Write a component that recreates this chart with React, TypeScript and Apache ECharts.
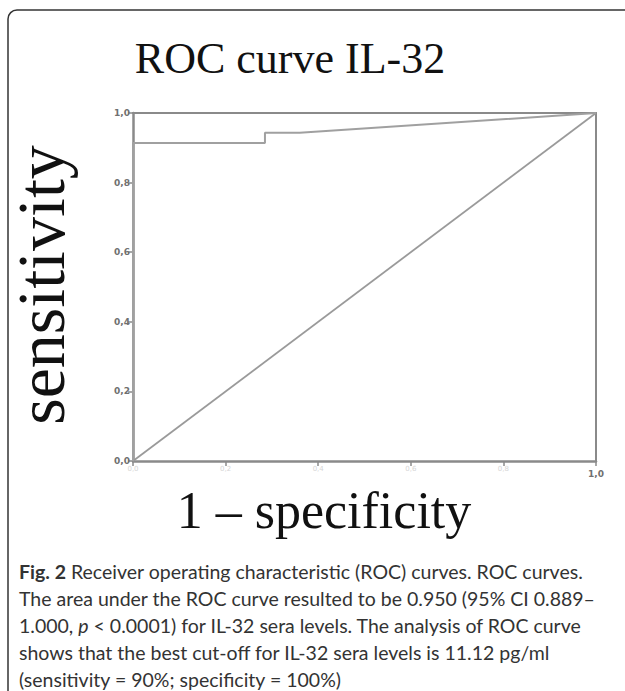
import React, { useEffect, useRef } from "react";
import * as echarts from "echarts";

const titleText = "ROC curve IL-32";
const xAxisName = "1 – specificity";
const yAxisName = "sensitivity";
const rocPoints: [number, number][] = [
  [0, 0],
  [0, 0.914],
  [0.285, 0.914],
  [0.285, 0.943],
  [0.36, 0.943],
  [1, 1],
];
const diagonalPoints: [number, number][] = [
  [0, 0],
  [1, 1],
];
const captionLines = [
  "{b|Fig. 2} Receiver operating characteristic (ROC) curves. ROC curves.",
  "The area under the ROC curve resulted to be 0.950 (95% CI 0.889–",
  "1.000, {i|p} < 0.0001) for IL-32 sera levels. The analysis of ROC curve",
  "shows that the best cut-off for IL-32 sera levels is 11.12 pg/ml",
  "(sensitivity = 90%; specificity = 100%)",
];

const fmt = (v: number) => v.toFixed(1).replace(".", ",");

export default function App() {
  const ref = useRef<HTMLDivElement>(null);
  useEffect(() => {
    if (!ref.current) return;
    const chart = echarts.init(ref.current, null, { renderer: "svg" });
    const axisColor = "#8a8a8a";
    const captionFont = "Lato, 'Noto Sans', sans-serif";
    const capSize = 19.5;
    const borderStyle = { stroke: "#333", lineWidth: 1.5, fill: "none" };
    chart.setOption({
      animation: false,
      backgroundColor: "#fff",
      grid: { left: 133, right: 29, top: 113, bottom: 230 },
      xAxis: [
        {
          type: "value",
          min: 0,
          max: 1,
          interval: 0.2,
          axisLine: { show: true, onZero: false, lineStyle: { color: axisColor, width: 2.5 } },
          axisTick: { show: true, length: 5, lineStyle: { color: axisColor, width: 1.5 } },
          splitLine: { show: false },
          axisLabel: {
            margin: 4,
            formatter: (v: number) => (Math.abs(v - 1) < 1e-6 ? "{d|" + fmt(v) + "}" : "{f|" + fmt(v) + "}"),
            rich: {
              d: { color: "#707070", fontSize: 9, fontWeight: "bold", fontFamily: "DejaVu Sans", padding: [4, 0, 0, 0] },
              f: { color: "#d6d6d6", fontSize: 7, fontFamily: "DejaVu Sans" },
            },
          },
        },
        {
          type: "value",
          position: "top",
          min: 0,
          max: 1,
          axisLine: { show: true, onZero: false, lineStyle: { color: axisColor, width: 2 } },
          axisTick: { show: false },
          axisLabel: { show: false },
          splitLine: { show: false },
        },
      ],
      yAxis: [
        {
          type: "value",
          min: 0,
          max: 1,
          interval: 0.2,
          axisLine: { show: true, onZero: false, lineStyle: { color: axisColor, width: 2.5 } },
          axisTick: { show: true, length: 5, lineStyle: { color: axisColor, width: 1.5 } },
          splitLine: { show: false },
          axisLabel: {
            margin: 3,
            formatter: (v: number) => fmt(v),
            color: "#707070",
            fontSize: 9,
            fontWeight: "bold",
            fontFamily: "DejaVu Sans",
          },
        },
        {
          type: "value",
          position: "right",
          min: 0,
          max: 1,
          axisLine: { show: true, onZero: false, lineStyle: { color: axisColor, width: 2 } },
          axisTick: { show: false },
          axisLabel: { show: false },
          splitLine: { show: false },
        },
      ],
      series: [
        {
          type: "line",
          data: diagonalPoints,
          symbol: "none",
          lineStyle: { color: "#9a9a9a", width: 1.8 },
          z: 3,
        },
        {
          type: "line",
          data: rocPoints,
          symbol: "none",
          lineStyle: { color: "#a0a0a0", width: 2 },
          z: 4,
        },
      ],
      graphic: [
        {
          type: "line",
          shape: { x1: 8, y1: 19, x2: 8, y2: 700 },
          style: borderStyle,
          silent: true,
        },
        {
          type: "line",
          shape: { x1: 17, y1: 10, x2: 640, y2: 10 },
          style: borderStyle,
          silent: true,
        },
        {
          type: "arc",
          shape: { cx: 17, cy: 19, r: 9, startAngle: Math.PI, endAngle: Math.PI * 1.5 },
          style: borderStyle,
          silent: true,
        },
        {
          type: "text",
          x: 290,
          y: 58,
          style: {
            text: titleText,
            font: "44px 'Liberation Serif', 'DejaVu Serif', serif",
            fill: "#111",
            align: "center",
            verticalAlign: "middle",
          },
        },
        {
          type: "text",
          x: 41,
          y: 285,
          rotation: Math.PI / 2,
          style: {
            text: yAxisName,
            font: "68px 'Liberation Serif', 'DejaVu Serif', serif",
            fill: "#111",
            align: "center",
            verticalAlign: "middle",
          },
        },
        {
          type: "text",
          x: 324,
          y: 510,
          style: {
            text: xAxisName,
            font: "52px 'Liberation Serif', 'DejaVu Serif', serif",
            fill: "#111",
            align: "center",
            verticalAlign: "middle",
          },
        },
        ...captionLines.map((line, i) => ({
          type: "text",
          x: 19,
          y: 571 + i * 27,
          style: {
            text: line,
            fontFamily: captionFont,
            fontSize: capSize,
            fill: "#333",
            align: "left",
            verticalAlign: "middle",
            rich: {
              b: { fontFamily: captionFont, fontSize: capSize, fontWeight: "bold", fill: "#333" },
              i: { fontFamily: captionFont, fontSize: capSize, fontStyle: "italic", fill: "#333" },
            },
          },
        })),
      ],
    });
    return () => chart.dispose();
  }, []);
  return (
    <div
      ref={ref}
      style={{ position: "fixed", left: 0, top: 0, width: 625, height: 691 }}
    />
  );
}
